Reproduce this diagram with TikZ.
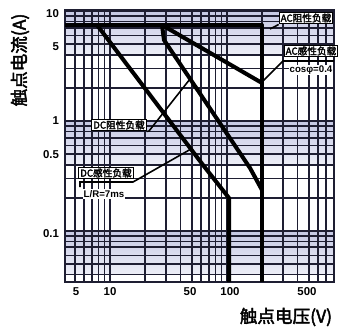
\documentclass[tikz,border=0pt]{standalone}
\usepackage{fontspec}
\setmainfont{Liberation Sans}
\newfontfamily\cjk{Noto Sans CJK SC}[AutoFakeBold=2.5]
\definecolor{gridline}{HTML}{1E1E32}
\definecolor{band}{HTML}{C5C8E4}
% voltage -> x, current -> y (picture units are pixels of the chart)
\newcommand{\vpos}[1]{110+117*log10(#1/10)}
\newcommand{\apos}[1]{121-110*log10(#1)}

\begin{document}
\begin{tikzpicture}[x=0.02cm,y=-0.02cm,
    curve/.style={line width=2.3pt,line join=round},
    leader/.style={line width=0.9pt},
    tag/.style={draw,fill=white,line width=0.7pt,inner sep=0.8pt,
      font=\cjk\bfseries\fontsize{5.5}{6}\selectfont},
    note/.style={fill=white,inner sep=0.6pt,font=\bfseries\fontsize{5.5}{6}\selectfont},
    tick/.style={font=\bfseries\fontsize{6.5}{7}\selectfont,inner sep=1pt},
    axis/.style={font=\cjk\bfseries\fontsize{10}{11}\selectfont}]
  \useasboundingbox (0,0) rectangle (341,329);

  % shaded bands
  \foreach \hi/\lo in {10/4,1/0.4,0.1/0.04}
    \shade[top color=band,bottom color=band!30] (65,{\apos{\hi}}) rectangle (334,{\apos{\lo}});

  % log grid
  \foreach \v in {5,...,9,10,20,...,90,100,200,...,700}
    \draw[gridline,line width=0.9pt] ({\vpos{\v}},10) -- ({\vpos{\v}},282);
  \foreach \a in {0.04,0.05,0.06,0.07,0.08,0.09,0.1,0.2,0.3,0.4,0.5,0.6,0.7,0.8,0.9,1,2,...,10}
    \draw[gridline,line width=0.9pt] (65,{\apos{\a}}) -- (334,{\apos{\a}});
  \draw[gridline,line width=1.1pt] (65,10) rectangle (334,282);

  % load curves
  \draw[curve] (65,25) -- (262,25) -- (262,282);
  \draw[curve] (162,25) -- (262,83);
  \draw[curve] (162,25) -- (164,40) -- (250,168) -- (262,190);
  \draw[curve] (97,25) -- (203,165) -- (229,198) -- (229,282);

  % labels
  \node[tag] (acr) at (306,18) {AC阻性负载};
  \node[tag] (aci) at (311,51) {AC感性负载};
  \node[note] (cos) at (311,70) {cosφ=0.4};
  \node[tag] (dcr) at (119,125) {DC阻性负载};
  \node[tag] (dci) at (106,173) {DC感性负载};
  \node[note] (lr) at (104,194) {L/R=7ms};

  \coordinate (acrend) at (270,29);
  \coordinate (aciknee) at (283,61);
  \coordinate (aciend) at (263,81);
  \coordinate (dcrknee) at (149,131);
  \coordinate (dcrend) at (190,79);
  \coordinate (dcitick) at (80,187);
  \coordinate (dciknee) at (133,182);
  \coordinate (dciend) at (191,149);

  \draw[leader] (acr.south west) -- (acrend);
  \draw[leader] (334,61) -- (aciknee) -- (aciend);
  \draw[leader] (dcr.south east) -- (dcrknee) -- (dcrend);
  \draw[leader] (dcitick) -- (80,182) -- (dciknee) -- (dciend);

  % ticks
  \node[tick,anchor=east] (y10) at (61,14) {10};
  \node[tick,anchor=east] (y5) at (61,47) {5};
  \node[tick,anchor=east] (y1) at (61,121) {1};
  \node[tick,anchor=east] (y05) at (61,155) {0.5};
  \node[tick,anchor=east] (y01) at (61,234) {0.1};
  \node[tick] (x5) at (76,292) {5};
  \node[tick] (x10) at (110,292) {10};
  \node[tick] (x50) at (190,292) {50};
  \node[tick] (x100) at (230,292) {100};
  \node[tick] (x500) at (307,292) {500};

  % axis titles
  \node[axis,rotate=90] (ylab) at (20,60) {触点电流(A)};
  \node[axis] (xlab) at (286,317) {触点电压(V)};
\end{tikzpicture}
\end{document}
